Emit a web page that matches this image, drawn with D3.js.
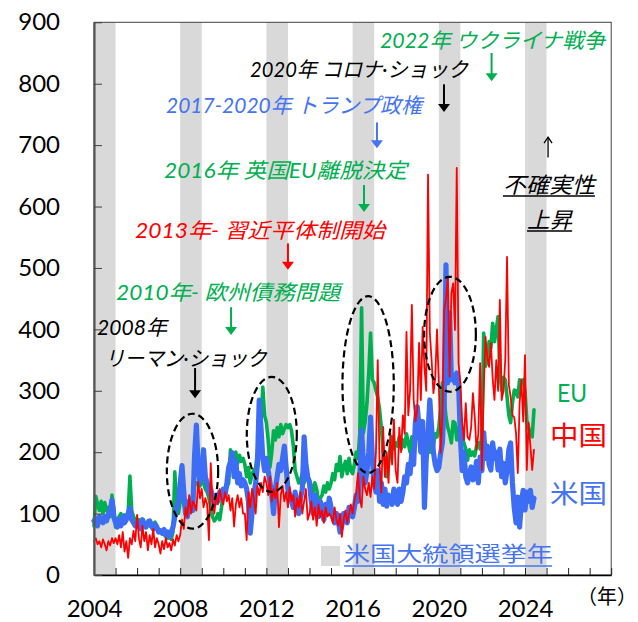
<!DOCTYPE html>
<html><head><meta charset="utf-8">
<script src="https://cdn.jsdelivr.net/npm/d3@7"></script>
<style>body{margin:0;background:#fff} svg{display:block}</style>
</head><body><svg id="c" width="638" height="622"></svg>
<script>
// ---------------- DATA ----------------
const startYear = 2004;              // monthly series start (Jan 2004)
const electionYears = [2004, 2008, 2012, 2016, 2020, 2024];
const xLabelYears = [2004, 2008, 2012, 2016, 2020, 2024];
const yTicks = [0, 100, 200, 300, 400, 500, 600, 700, 800, 900];

const usValues = [
 88, 92, 80, 95, 90, 85, 95, 88, 100, 105, 122, 95,
 85, 78, 90, 80, 95, 85, 90, 100, 109, 90, 85, 80,
 80, 85, 75, 90, 82, 78, 85, 88, 80, 75, 82, 78,
 70, 72, 68, 74, 66, 70, 62, 70, 78, 95, 110, 120,
 150, 178, 135, 100, 95, 120, 110, 105, 195, 244, 175, 150,
 165, 204, 160, 150, 135, 140, 125, 115, 130, 120, 135, 125,
 140, 130, 150, 175, 185, 199, 160, 185, 150, 165, 145, 155,
 150, 140, 120, 68, 100, 130, 150, 180, 285, 240, 190, 170,
 190, 170, 150, 130, 100, 140, 160, 180, 170, 190, 210, 175,
 140, 130, 120, 110, 135, 105, 100, 125, 140, 225, 180, 160,
 150, 120, 100, 130, 110, 95, 120, 105, 90, 115, 100, 125,
 110, 95, 85, 100, 90, 70, 80, 100, 95, 85, 110, 100,
 95, 110, 130, 120, 160, 236, 182, 150, 170, 200, 257, 190,
 150, 135, 170, 120, 150, 115, 140, 112, 130, 125, 115, 140,
 130, 115, 140, 120, 135, 160, 150, 180, 165, 200, 180, 250,
 274, 241, 200, 250, 110, 190, 230, 285, 240, 200, 180, 170,
 175, 198, 215, 280, 505, 313, 427, 318, 325, 313, 329, 313,
 225, 170, 200, 160, 150, 165, 176, 155, 160, 185, 150, 192,
 170, 232, 190, 210, 180, 171, 215, 190, 200, 171, 205, 160,
 182, 150, 170, 204, 215, 150, 110, 85, 127, 78, 120, 138,
 106, 135, 120, 138, 110, 125
];
const euValues = [
 80, 128, 115, 105, 120, 100, 118, 105, 110, 95, 130, 110,
 78, 90, 95, 100, 92, 98, 90, 100, 161, 105, 95, 90,
 85, 90, 88, 80, 85, 82, 88, 80, 78, 84, 86, 80,
 72, 70, 68, 66, 62, 60, 62, 58, 70, 168, 110, 100,
 120, 140, 115, 105, 100, 110, 120, 130, 145, 150, 150, 145,
 155, 150, 140, 135, 125, 110, 95, 88, 92, 100, 90, 110,
 138, 135, 143, 150, 204, 185, 190, 200, 182, 195, 185, 190,
 180, 160, 175, 150, 165, 170, 175, 200, 230, 250, 306, 260,
 248, 220, 176, 200, 235, 220, 240, 225, 245, 230, 238, 245,
 240, 245, 235, 210, 170, 160, 150, 155, 165, 150, 160, 155,
 155, 145, 135, 150, 140, 117, 125, 130, 145, 135, 150, 140,
 150, 165, 155, 180, 170, 193, 160, 175, 185, 165, 190, 170,
 165, 180, 200, 190, 230, 435, 231, 250, 280, 330, 394, 318,
 313, 300, 290, 270, 240, 200, 187, 160, 180, 210, 225, 205,
 215, 210, 225, 205, 220, 209, 230, 215, 200, 225, 220, 231,
 225, 230, 215, 220, 205, 210, 225, 200, 215, 210, 230, 225,
 241, 269, 313, 290, 257, 240, 230, 215, 250, 248, 220, 240,
 235, 225, 215, 205, 187, 204, 195, 200, 194, 210, 215, 205,
 230, 394, 340, 350, 380, 370, 410, 380, 400, 421, 330, 301,
 322, 318, 290, 260, 248, 280, 301, 300, 290, 318, 315, 318,
 300, 252, 240, 231, 225, 269
];
const cnValues = [
 55, 60, 50, 55, 45, 58, 50, 40, 55, 48, 60, 52,
 60, 50, 65, 45, 70, 38, 55, 28, 60, 50, 72, 55,
 98, 60, 45, 80, 55, 70, 40, 65, 50, 75, 45, 60,
 50, 35, 55, 42, 60, 45, 52, 40, 58, 48, 65, 55,
 65, 90, 75, 110, 95, 130, 100, 120, 115, 105, 152, 125,
 140, 110, 125, 115, 57, 182, 120, 100, 130, 115, 140, 125,
 115, 135, 120, 130, 105, 125, 79, 115, 130, 110, 125, 100,
 100, 57, 135, 110, 140, 125, 100, 145, 130, 150, 135, 160,
 150, 130, 160, 120, 140, 125, 150, 78, 130, 145, 120, 135,
 110, 143, 120, 130, 95, 125, 110, 135, 100, 120, 140, 90,
 100, 120, 90, 110, 80, 115, 95, 105, 85, 110, 95, 100,
 95, 85, 110, 90, 80, 100, 62, 90, 105, 85, 100, 115,
 100, 120, 135, 166, 125, 110, 160, 140, 130, 150, 127, 160,
 140, 200, 350, 180, 134, 241, 160, 200, 150, 230, 180, 253,
 170, 150, 240, 200, 260, 230, 396, 260, 300, 440, 285, 250,
 269, 378, 285, 404, 339, 300, 652, 394, 350, 296, 320, 400,
 313, 199, 260, 432, 450, 486, 323, 459, 475, 399, 663, 345,
 313, 250, 220, 280, 225, 220, 240, 296, 258, 204, 230, 345,
 171, 300, 388, 355, 339, 378, 320, 285, 350, 300, 448, 285,
 300, 350, 518, 310, 290, 260, 257, 231, 166, 280, 318, 250,
 358, 171, 248, 210, 171, 204
];

// ---------------- STYLE ----------------
const GREEN = "#00B050", RED = "#FF0000", BLUE = "#3D6DF5", BLUE_TXT = "#4474F2";
const LATIN = "Lato, 'Noto Sans CJK JP', sans-serif";
const JP = "Lato, 'Noto Sans CJK JP', sans-serif";

const svg = d3.select("#c");
const x = d3.scaleLinear().domain([2004, 2028]).range([94, 611.2]);
const y = d3.scaleLinear().domain([0, 900]).range([575, 22.3]);

// election-year bands
svg.append("g").selectAll("rect").data(electionYears).join("rect")
  .attr("x", d => x(d)).attr("width", d => x(d + 1) - x(d))
  .attr("y", y(900)).attr("height", y(0) - y(900))
  .attr("fill", "#D9D9D9");

// frame
svg.append("rect").attr("x", x(2004)).attr("y", y(900))
  .attr("width", x(2028) - x(2004)).attr("height", y(0) - y(900))
  .attr("fill", "none").attr("stroke", "#404040").attr("stroke-width", 1);

// series
const line = d3.line().x((d, i) => x(startYear + i / 12)).y(d => y(d));
const series = [
  {vals: euValues, color: GREEN, w: 3.6},
  {vals: usValues, color: BLUE, w: 5.2},
  {vals: cnValues, color: RED, w: 1.8}
];
series.forEach(s => {
  svg.append("path").datum(s.vals).attr("d", line)
    .attr("fill", "none").attr("stroke", s.color).attr("stroke-width", s.w)
    .attr("stroke-linejoin", "round").attr("stroke-linecap", "round");
});

// axes
const gx = svg.append("g").attr("transform", `translate(0,${y(0)})`)
  .call(d3.axisBottom(x).tickValues(d3.range(2004, 2029)).tickSizeInner(-7).tickSizeOuter(0)
    .tickPadding(25).tickFormat(d => xLabelYears.includes(d) ? String(d) : ""));
gx.select(".domain").attr("stroke", "#000").attr("stroke-width", 1.6);
gx.selectAll(".tick line").attr("stroke", "#222").attr("stroke-width", 1);
gx.selectAll("text").attr("font-family", LATIN).attr("font-size", 24).attr("fill", "#000");

const gy = svg.append("g").attr("transform", `translate(${x(2004)},0)`)
  .call(d3.axisLeft(y).tickValues(yTicks).tickSizeInner(-8).tickSizeOuter(0).tickPadding(34));
gy.select(".domain").attr("stroke", "#595959").attr("stroke-width", 2.2);
gy.selectAll(".tick line").attr("stroke", "#404040").attr("stroke-width", 1);
gy.selectAll("text").attr("font-family", LATIN).attr("font-size", 24).attr("fill", "#000");

// dashed ellipses
const ellipses = [
  {cx: 2008.57, cy: 169, rx: 1.19, ry: 93.6},
  {cx: 2012.25, cy: 229, rx: 1.16, ry: 93.6},
  {cx: 2016.72, cy: 310, rx: 1.19, ry: 144},
  {cx: 2020.52, cy: 392, rx: 1.20, ry: 93.6}
];
svg.append("g").selectAll("ellipse").data(ellipses).join("ellipse")
  .attr("cx", d => x(d.cx)).attr("cy", d => y(d.cy))
  .attr("rx", d => x(d.cx + d.rx) - x(d.cx)).attr("ry", d => y(d.cy - d.ry) - y(d.cy))
  .attr("fill", "none").attr("stroke", "#000").attr("stroke-width", 2.2)
  .attr("stroke-dasharray", "7,4");

// down arrows
const arrows = [
  {x: 2022.45, v1: 850, v2: 804, c: GREEN},
  {x: 2020.24, v1: 799, v2: 754, c: "#000"},
  {x: 2017.13, v1: 737, v2: 695, c: BLUE_TXT},
  {x: 2016.53, v1: 635, v2: 591, c: GREEN},
  {x: 2013.00, v1: 540, v2: 497, c: RED},
  {x: 2010.36, v1: 436, v2: 391, c: GREEN},
  {x: 2008.69, v1: 337, v2: 288, c: "#000"}
];
arrows.forEach(a => {
  const ax = x(a.x), y1 = y(a.v1), y2 = y(a.v2);
  svg.append("line").attr("x1", ax).attr("x2", ax).attr("y1", y1).attr("y2", y2 - 6)
    .attr("stroke", a.c).attr("stroke-width", 2);
  svg.append("path").attr("d", `M${ax - 6},${y2 - 8} L${ax + 6},${y2 - 8} L${ax},${y2} Z`)
    .attr("fill", a.c);
});
// up arrow (thin)
{
  const ax = x(2025.07), yb = y(680), yt = y(713);
  svg.append("line").attr("x1", ax).attr("x2", ax).attr("y1", yb).attr("y2", yt)
    .attr("stroke", "#000").attr("stroke-width", 1.3);
  svg.append("path").attr("d", `M${ax - 4},${yt + 6} L${ax},${yt} L${ax + 4},${yt + 6}`)
    .attr("fill", "none").attr("stroke", "#000").attr("stroke-width", 1.3);
}

// annotation texts
const notes = [
  {t: "2022年 ウクライナ戦争", c: GREEN, x: 2022.49, v: 858, w: 225, a: "middle"},
  {t: "2020年 コロナ·ショック", c: "#000", x: 2016.30, v: 811, w: 218, a: "middle"},
  {t: "2017-2020年 トランプ政権", c: BLUE_TXT, x: 2013.28, v: 752, w: 256, a: "middle"},
  {t: "2016年 英国EU離脱決定", c: GREEN, x: 2012.89, v: 646, w: 243, a: "middle"},
  {t: "2013年-  習近平体制開始", c: RED, x: 2011.70, v: 549, w: 250, a: "middle"},
  {t: "2010年- 欧州債務問題", c: GREEN, x: 2010.22, v: 448, w: 224, a: "middle"},
  {t: "2008年", c: "#000", x: 2004.14, v: 391, w: 70, a: "start"},
  {t: "リーマン·ショック", c: "#000", x: 2004.51, v: 340, w: 162, a: "start"}
];
notes.forEach(n => {
  svg.append("text").attr("x", x(n.x)).attr("y", y(n.v))
    .attr("text-anchor", n.a).attr("font-family", JP).attr("font-size", 21)
    .attr("font-style", "italic").attr("fill", n.c)
    .attr("textLength", n.w).attr("lengthAdjust", "spacingAndGlyphs")
    .text(n.t);
});

// uncertainty note (underlined)
const uNotes = [
  {t: "不確実性", x: 2025.11, v: 622, w: 92},
  {t: "上昇", x: 2025.14, v: 565, w: 45}
];
uNotes.forEach(n => {
  svg.append("text").attr("x", x(n.x)).attr("y", y(n.v))
    .attr("text-anchor", "middle").attr("font-family", JP).attr("font-size", 22)
    .attr("font-style", "italic").attr("fill", "#000")
    .attr("textLength", n.w).attr("lengthAdjust", "spacingAndGlyphs").text(n.t);
  svg.append("line").attr("x1", x(n.x) - n.w / 2).attr("x2", x(n.x) + n.w / 2)
    .attr("y1", y(n.v) + 3).attr("y2", y(n.v) + 3)
    .attr("stroke", "#000").attr("stroke-width", 1.5);
});

// series labels
const labels = [
  {t: "EU", c: GREEN, px: 557, py: 402, fs: 25, w: 30},
  {t: "中国", c: RED, px: 550, py: 445, fs: 26, w: 57},
  {t: "米国", c: BLUE_TXT, px: 550, py: 503, fs: 26, w: 57}
];
labels.forEach(l => {
  svg.append("text").attr("x", l.px).attr("y", l.py).attr("font-family", JP)
    .attr("font-size", l.fs).attr("fill", l.c)
    .attr("textLength", l.w).attr("lengthAdjust", "spacingAndGlyphs").text(l.t);
});

// legend
svg.append("rect").attr("x", 321).attr("y", 546).attr("width", 19).attr("height", 20).attr("fill", "#D9D9D9");
svg.append("text").attr("x", 344).attr("y", 561).attr("font-family", JP).attr("font-size", 21)
  .attr("fill", BLUE_TXT).attr("textLength", 209).attr("lengthAdjust", "spacingAndGlyphs")
  .text("米国大統領選挙年");
svg.append("line").attr("x1", 344).attr("x2", 552).attr("y1", 566).attr("y2", 566)
  .attr("stroke", BLUE_TXT).attr("stroke-width", 1.5);

// unit
svg.append("text").attr("x", 577).attr("y", 604).attr("font-family", JP).attr("font-size", 20)
  .attr("fill", "#000").text("（年）");
</script></body></html>
